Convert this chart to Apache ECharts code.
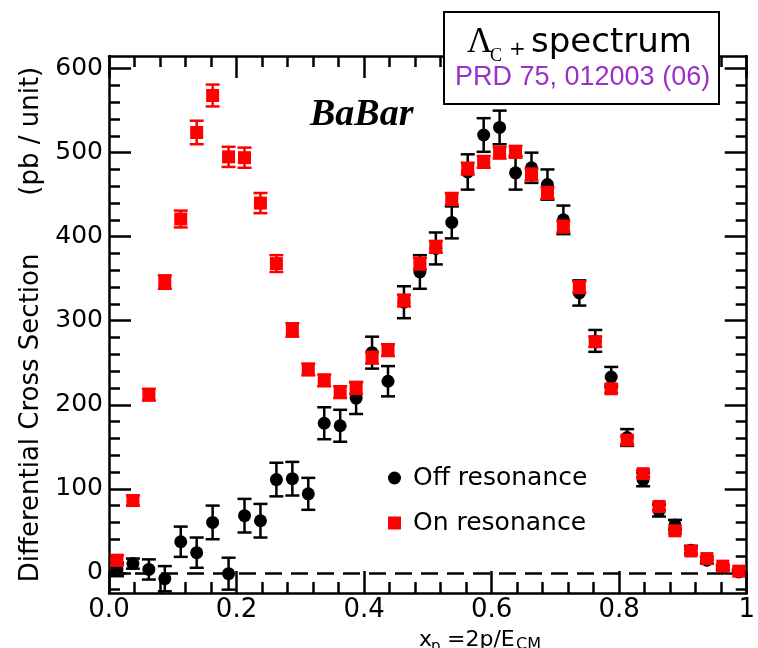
<!DOCTYPE html>
<html>
<head>
<meta charset="utf-8">
<script src="https://cdn.jsdelivr.net/npm/echarts@6/dist/echarts.min.js"></script>
<style>html,body{margin:0;padding:0;background:#fff}#c{width:758px;height:648px}</style>
</head>
<body>
<div id="c"></div>
<script>
// bin centres of x_p
const xBins = [0.0125,0.0375,0.0625,0.0875,0.1125,0.1375,0.1625,0.1875,0.2125,0.2375,
  0.2625,0.2875,0.3125,0.3375,0.3625,0.3875,0.4125,0.4375,0.4625,0.4875,
  0.5125,0.5375,0.5625,0.5875,0.6125,0.6375,0.6625,0.6875,0.7125,0.7375,
  0.7625,0.7875,0.8125,0.8375,0.8625,0.8875,0.9125,0.9375,0.9625,0.9875];
// On resonance (red squares)
const onVals = [15,86,212,346,421,524,568,495,494,440,368,289,242,229,215,220,256,265,324,368,
  388,445,481,489,500,501,474,452,412,340,275,219,158,118,79,50,26,17,8,2];
const onErr = [6,6,7,8,10,14,13,12,12,12,10,8,7,7,7,7,7,7,7,7,
  7,7,7,7,7,7,7,7,7,7,6,5,5,4,4,3,3,2,2,2];
// Off resonance (black circles)
const offVals = [4,11,4,-7,37,24,60,-1,68,62,111,112,94,178,175,208,262,228,322,358,
  386,417,477,521,530,476,482,462,420,333,276,233,161,111,74,57,27,15,6,1];
const offErr = [8,6,12,15,18,18,20,19,20,20,20,20,19,19,19,19,19,18,19,20,
  19,19,21,20,20,20,18,18,17,15,13,12,10,8,7,6,5,4,3,2];
// axis ticks
const yMajor = [0,100,200,300,400,500,600];
const yMinor = [-20,20,40,60,80,120,140,160,180,220,240,260,280,320,340,360,380,420,440,460,480,520,540,560,580];
const xTickLabels = {0:'0.0',0.2:'0.2',0.4:'0.4',0.6:'0.6',0.8:'0.8',1:'1'};

const Y_MIN = -24, Y_MAX = 615;
const FONT = 'DejaVu Sans';

const offData = xBins.map((x,i)=>[x, offVals[i]]);
const onData = xBins.map((x,i)=>[x, onVals[i]]);
const offErrData = xBins.map((x,i)=>[x, offVals[i], offErr[i]]);
const onErrData = xBins.map((x,i)=>[x, onVals[i], onErr[i]]);

function errRender(color){
  return function(params, api){
    const x = api.value(0), y = api.value(1), e = api.value(2);
    const lo = api.coord([x, y - e]), hi = api.coord([x, y + e]);
    const hw = 7;
    const st = {stroke: color, lineWidth: 2.5};
    return {type:'group', children:[
      {type:'line', shape:{x1:lo[0], y1:lo[1], x2:hi[0], y2:hi[1]}, style:st},
      {type:'line', shape:{x1:lo[0]-hw, y1:lo[1], x2:lo[0]+hw, y2:lo[1]}, style:st},
      {type:'line', shape:{x1:hi[0]-hw, y1:hi[1], x2:hi[0]+hw, y2:hi[1]}, style:st}
    ]};
  };
}

function yAx(pos, showLine, tickVals, tickLen, labels, extra){
  return Object.assign({
    type:'value', position:pos, min:Y_MIN, max:Y_MAX,
    axisLine:{show:showLine, onZero:false, lineStyle:{color:'#000', width:2.5}},
    axisTick:{show:true, inside:true, length:tickLen, customValues:tickVals, lineStyle:{color:'#000', width:2.5}},
    axisLabel: labels ? {show:true, customValues:yMajor, margin:6, color:'#000', fontFamily:FONT, fontSize:25} : {show:false},
    splitLine:{show:false}
  }, extra || {});
}

function xAx(pos, labels){
  return {
    type:'value', position:pos, min:0, max:1, interval:0.2,
    axisLine:{show:true, onZero:false, lineStyle:{color:'#000', width:2.5}},
    axisTick:{show:true, inside:true, length:22, lineStyle:{color:'#000', width:2.5}},
    minorTick:{show:true, splitNumber:5, length:11, lineStyle:{color:'#000', width:2.5}},
    axisLabel: labels ? {show:true, margin:4, color:'#000', fontFamily:FONT, fontSize:26,
      formatter:(v)=> xTickLabels[Math.round(v*10)/10] || ''} : {show:false},
    splitLine:{show:false}, minorSplitLine:{show:false}
  };
}

const chart = echarts.init(document.getElementById('c'), null, {renderer:'canvas'});
chart.setOption({
  animation:false,
  backgroundColor:'#fff',
  grid:{left:109, right:5, top:56, bottom:55, containLabel:false},
  xAxis:[xAx('bottom', true), xAx('top', false)],
  yAxis:[
    yAx('left', true, yMajor, 22, true, {
      name:'Differential Cross Section       (pb / unit)', nameLocation:'middle', nameGap:50,
      nameTextStyle:{color:'#000', fontFamily:FONT, fontSize:26}
    }),
    yAx('left', false, yMinor, 11, false),
    yAx('right', true, yMajor, 22, false),
    yAx('right', false, yMinor, 11, false)
  ],
  legend:{
    show:true, orient:'vertical', left:383, top:458, itemWidth:13, itemHeight:13, itemGap:15,
    data:[{name:'Off resonance', icon:'circle'},{name:'On resonance', icon:'rect'}],
    textStyle:{color:'#000', fontFamily:FONT, fontSize:25, lineHeight:30, padding:[0,0,0,7]}
  },
  series:[
    {type:'custom', name:'offErr', renderItem:errRender('#000'), data:offErrData, z:2, silent:true,
      encode:{x:0, y:1},
      markLine:{silent:true, symbol:'none', label:{show:false},
        lineStyle:{color:'#000', width:2.5, type:[17,9]}, data:[{yAxis:0}]}},
    {type:'scatter', name:'Off resonance', data:offData, symbol:'circle', symbolSize:13,
      itemStyle:{color:'#000', opacity:1}, z:3},
    {type:'custom', name:'onErr', renderItem:errRender('#ff0000'), data:onErrData, z:4, silent:true, encode:{x:0, y:1}},
    {type:'scatter', name:'On resonance', data:onData, symbol:'rect', symbolSize:13,
      itemStyle:{color:'#ff0000', opacity:1}, z:5}
  ],
  graphic:[
    {type:'rect', z:100, shape:{x:444, y:12, width:275, height:92},
      style:{fill:'#fff', stroke:'#000', lineWidth:2}},
    {type:'text', z:101, x:467, y:43, style:{text:'Λ', font:'35px "Liberation Serif"', fill:'#000', verticalAlign:'middle'}},
    {type:'text', z:101, x:490, y:56, style:{text:'C', font:'18px "Liberation Serif"', fill:'#000', verticalAlign:'middle'}},
    {type:'text', z:101, x:509, y:50, style:{text:'+', font:'20px "DejaVu Sans"', fill:'#000', verticalAlign:'middle'}},
    {type:'text', z:101, x:531, y:43, style:{text:'spectrum', font:'34px "DejaVu Sans"', fill:'#000', verticalAlign:'middle'}},
    {type:'text', z:101, x:455, y:78, style:{text:'PRD 75, 012003 (06)', font:'27px "Liberation Sans"', fill:'#9b30c8', verticalAlign:'middle'}},
    {type:'text', z:101, x:310, y:115, style:{text:'BaBar', font:'italic bold 38px "Liberation Serif"', fill:'#000', verticalAlign:'middle'}},
    {type:'text', z:101, x:419, y:640, style:{text:'x', font:'22px "DejaVu Sans"', fill:'#000', verticalAlign:'middle'}},
    {type:'text', z:101, x:431, y:647, style:{text:'p', font:'15px "DejaVu Sans"', fill:'#000', verticalAlign:'middle'}},
    {type:'text', z:101, x:447, y:640, style:{text:'=2p/E', font:'22px "DejaVu Sans"', fill:'#000', verticalAlign:'middle'}},
    {type:'text', z:101, x:516, y:645, style:{text:'CM', font:'16px "DejaVu Sans"', fill:'#000', verticalAlign:'middle'}}
  ]
});
</script>
</body>
</html>
